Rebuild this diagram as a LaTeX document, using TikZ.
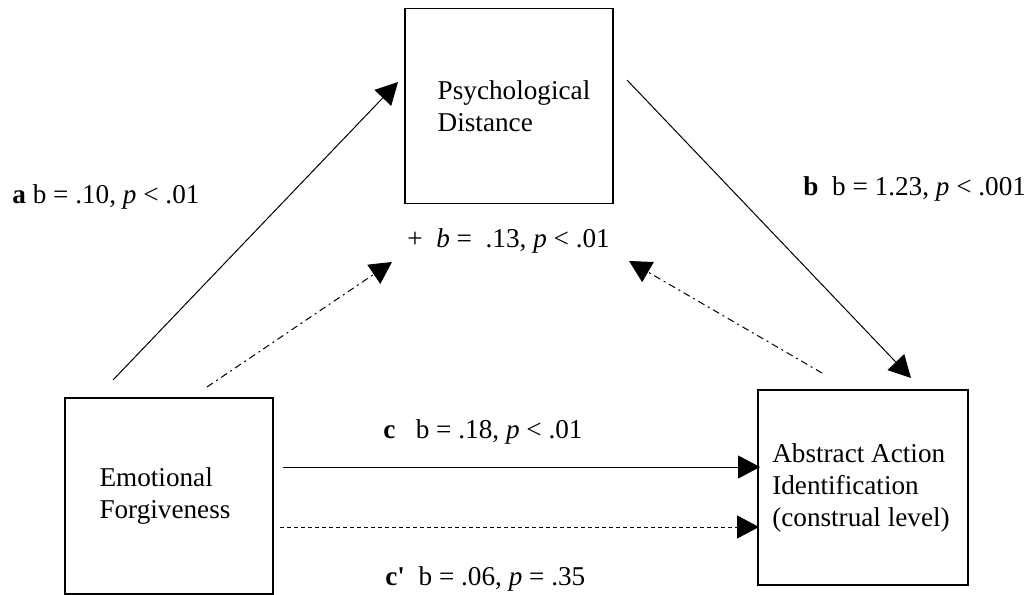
\documentclass[tikz,border=0pt]{standalone}
\usepackage{fontspec}
\setmainfont{Liberation Serif}
\usetikzlibrary{arrows.meta}
\begin{document}
\begin{tikzpicture}[x=0.5pt,y=-0.5pt,
  every node/.style={font=\fontsize{13.6pt}{16pt}\selectfont},
  varbox/.style={draw, line width=0.75pt, minimum width=104pt, minimum height=97.5pt, align=left, inner sep=0pt},
  lbl/.style={anchor=west, inner sep=0pt},
  conn/.style={line width=0.5pt, -{Triangle[length=11pt,width=11.5pt]}},
  dashdot/.style={dash pattern=on 3.5pt off 2pt on 1pt off 2pt},
  shortdash/.style={dash pattern=on 2pt off 1.5pt}]
\useasboundingbox (0,0) rectangle (1024,595);
\node[varbox] (pd) at (509,106) {\hspace*{5pt}Psychological\\\hspace*{5pt}Distance};
\node[varbox, minimum height=98pt] (ef) at (169,496) {\hspace*{-4pt}Emotional\\\hspace*{-4pt}Forgiveness};
\node[varbox, minimum width=105pt] (aa) at (863,487.5) {\hspace*{-2pt}Abstract Action\\\hspace*{-2pt}Identification\\\hspace*{-2pt}(construal level)};
% endpoints
\coordinate (a0) at (113,380);
\coordinate (a1) at (398,82);
\coordinate (d0) at (207,387);
\coordinate (d1) at (392,262);
\coordinate (b0) at (627,80);
\coordinate (b1) at (911,378);
\coordinate (e0) at (822,373);
\coordinate (e1) at (629,261);
\coordinate (c0) at (283,467);
\coordinate (c1) at (760,467);
\coordinate (f0) at (280,527);
\coordinate (f1) at (759,527);
\draw[conn] (a0) -- (a1);
\draw[conn, dashdot] (d0) -- (d1);
\draw[conn] (b0) -- (b1);
\draw[conn, dashdot] (e0) -- (e1);
\draw[conn] (c0) -- (c1);
\draw[conn, shortdash] (f0) -- (f1);
% labels
\node[lbl] (la) at (12,197) {\textbf{a} b = .10, \textit{p} < .01};
\node[lbl] (lb) at (803,189) {\textbf{b}\ \ b = 1.23, \textit{p} < .001};
\node[lbl] (lm) at (407,241) {+\ \ \textit{b} =\ \ .13, \textit{p} < .01};
\node[lbl] (lc) at (383,432) {\textbf{c}\ \ \ b = .18, \textit{p} < .01};
\node[lbl] (lcp) at (385,579) {\textbf{c\textquotesingle}\ \ b = .06, \textit{p} = .35};
\end{tikzpicture}
\end{document}
